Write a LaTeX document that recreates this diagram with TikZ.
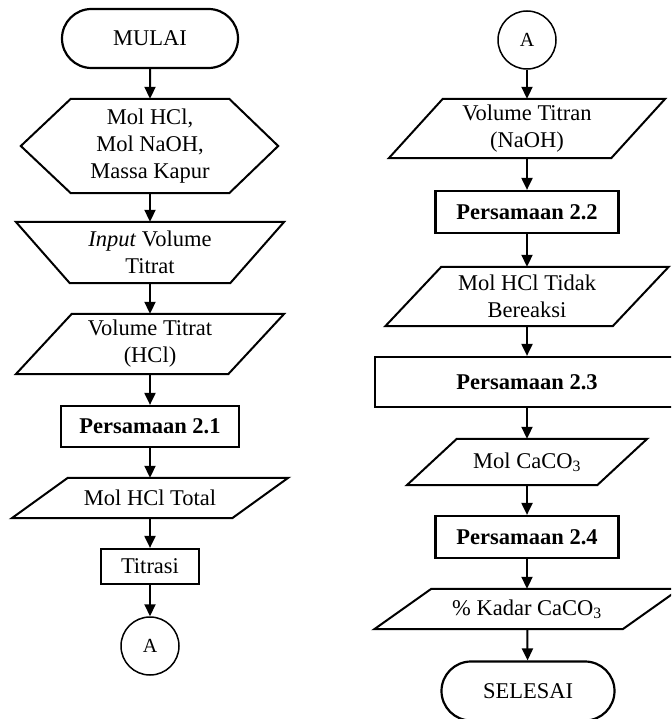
\documentclass[tikz,border=0pt]{standalone}
\usepackage{fontspec}
\setmainfont{Liberation Serif}
\usetikzlibrary{arrows.meta,shapes.misc}

\begin{document}
\begin{tikzpicture}[x=1pt,y=-1pt,
    font=\fontsize{22.5}{27}\selectfont]

      \useasboundingbox (0,0) rectangle (671,719);
      \clip (0,0) rectangle (671,719);

      % terminal and process boxes
      \begin{scope}[every node/.style={draw, line width=2.2pt, align=center, inner sep=0pt}]
        \node[rounded rectangle, minimum width=176, minimum height=59] (mulai)   at (150,38.5) {MULAI};
        \node[minimum width=178, minimum height=41] (pers1)   at (150,426.5) {\textbf{Persamaan 2.1}};
        \node[minimum width=98,  minimum height=35] (titrasi) at (150,566.5) {Titrasi};
        \node[minimum width=183, minimum height=42] (pers2)   at (527,212)   {\textbf{Persamaan 2.2}};
        \node[minimum width=304, minimum height=50] (pers3)   at (527,382)   {\textbf{Persamaan 2.3}};
        \node[minimum width=183, minimum height=42] (pers4)   at (527,537)   {\textbf{Persamaan 2.4}};
        \node[rounded rectangle, minimum width=173, minimum height=59] (selesai) at (528,691) {SELESAI};
      \end{scope}

      % connectors
      \begin{scope}[every node/.style={circle, draw, line width=1.5pt, minimum size=58, inner sep=0pt,
          font=\fontsize{20}{24}\selectfont}]
        \node (a1) at (150,646) {A};
        \node (a2) at (527,40)  {A};
      \end{scope}

      % data and input texts, outlines drawn below
      \begin{scope}[every node/.style={align=center, inner sep=0pt}]
        \node[minimum width=158, minimum height=94] (awal)    at (150,146)   {Mol HCl,\\Mol NaOH,\\Massa Kapur};
        \node[minimum width=160, minimum height=61] (input)   at (150,252.5) {\textit{Input} Volume\\Titrat};
        \node[minimum width=212, minimum height=60] (vtitrat) at (150,344)   {Volume Titrat\\(HCl)};
        \node[minimum width=220, minimum height=40] (moltot)  at (150,498)   {Mol HCl Total};
        \node[minimum width=222, minimum height=59] (vtitran) at (527,128.5) {Volume Titran\\(NaOH)};
        \node[minimum width=227, minimum height=59] (molsisa) at (527,296.5) {Mol HCl Tidak\\Bereaksi};
        \node[minimum width=190, minimum height=46] (molcaco) at (527,462)   {Mol CaCO\textsubscript{3}};
        \node[minimum width=248, minimum height=40] (kadar)   at (527,609)   {\% Kadar CaCO\textsubscript{3}};
      \end{scope}

      \begin{scope}[line width=2pt]
        \draw (awal.north west) -- (awal.north east) -- ([xshift=49]awal.east)
          -- (awal.south east) -- (awal.south west) -- ([xshift=-50]awal.west) -- cycle;
        \draw ([xshift=-54]input.north west) -- ([xshift=54]input.north east)
          -- (input.south east) -- (input.south west) -- cycle;
        \foreach \nd/\sl in {vtitrat/28, moltot/28, vtitran/27, molsisa/28, molcaco/25, kadar/28.5}
          \draw ([xshift=\sl]\nd.north west) -- ([xshift=\sl]\nd.north east)
            -- ([xshift=-\sl]\nd.south east) -- ([xshift=-\sl]\nd.south west) -- cycle;
      \end{scope}

      \begin{scope}[every edge/.style={draw, line width=2pt, -{Triangle[length=12pt,width=11pt]}}]
        \path (mulai)   edge (awal);
        \path (awal)    edge (input);
        \path (input)   edge (vtitrat);
        \path (vtitrat) edge (pers1);
        \path (pers1)   edge (moltot);
        \path (moltot)  edge (titrasi);
        \path (titrasi) edge (a1);
        \path (a2)      edge (vtitran);
        \path (vtitran) edge (pers2);
        \path (pers2)   edge (molsisa);
        \path (molsisa) edge (pers3);
        \path (pers3)   edge (molcaco);
        \path (molcaco) edge (pers4);
        \path (pers4)   edge (kadar);
        \path (kadar)   edge (selesai);
      \end{scope}

    \end{tikzpicture}
\end{document}
